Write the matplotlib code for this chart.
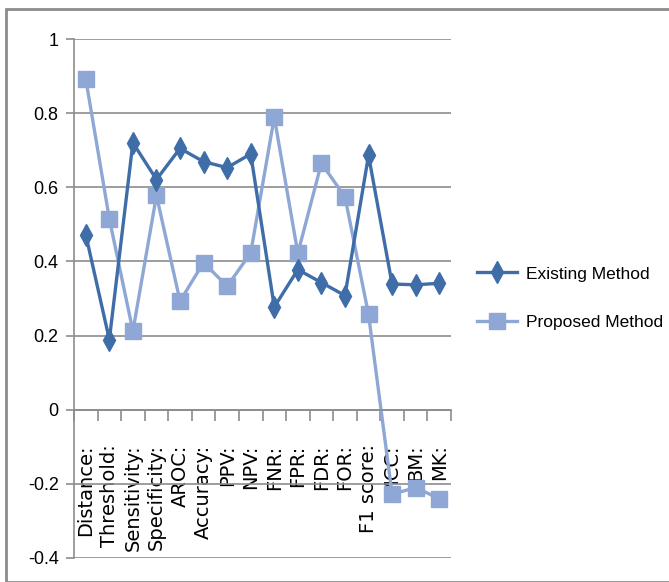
import matplotlib.pyplot as plt
from matplotlib.patches import Rectangle

categories = ['Distance:', 'Threshold:', 'Sensitivity:', 'Specificity:', 'AROC:',
              'Accuracy:', 'PPV:', 'NPV:', 'FNR:', 'FPR:', 'FDR:', 'FOR:',
              'F1 score:', 'MCC:', 'BM:', 'MK:']
existing = [0.472, 0.189, 0.720, 0.621, 0.705, 0.669, 0.653, 0.690,
            0.277, 0.378, 0.343, 0.308, 0.686, 0.339, 0.337, 0.341]
proposed = [0.892, 0.515, 0.212, 0.578, 0.293, 0.397, 0.333, 0.423,
            0.789, 0.422, 0.665, 0.574, 0.257, -0.228, -0.210, -0.240]
yticks = [-0.4, -0.2, 0, 0.2, 0.4, 0.6, 0.8, 1]
ylabels = ['-0.4', '-0.2', '0', '0.2', '0.4', '0.6', '0.8', '1']

narrow = ['Liberation Sans', 'DejaVu Sans']
grey = '#8c8c8c'

fig = plt.figure(figsize=(6.69, 5.82), dpi=100)
ax = fig.add_axes([74/669, 1 - 558/582, (451 - 74)/669, (558 - 39)/582])

x = range(len(categories))
ax.plot(x, existing, color='#3f6da8', lw=2.4, marker='d', ms=11,
        label='Existing Method', zorder=3)
ax.plot(x, proposed, color='#8ea7d5', lw=2.4, marker='s', ms=11,
        label='Proposed Method', zorder=2)

ax.set_xlim(-0.5, len(categories) - 0.5)
ax.set_ylim(-0.4, 1)
ax.set_yticks(yticks)
ax.set_yticklabels(ylabels, family=narrow, fontsize=13)
ax.yaxis.grid(True, color=grey, lw=1.2)
ax.tick_params(axis='y', length=6, color=grey, width=1.2, pad=5)

ax.spines['bottom'].set_position(('data', 0))
for s in ['top', 'right']:
    ax.spines[s].set_visible(False)
for s in ['bottom', 'left']:
    ax.spines[s].set_color(grey)
    ax.spines[s].set_linewidth(1.2)

ax.set_xticks(list(x))
ax.set_xticklabels(categories, rotation=90, fontsize=14, family='DejaVu Sans')
ax.set_xticks([i - 0.5 for i in range(len(categories) + 1)], minor=True)
ax.tick_params(axis='x', which='major', length=0, pad=25)
ax.tick_params(axis='x', which='minor', length=8, color=grey, width=1.2)
for t in ax.get_xticklabels():
    t.set_zorder(1)

fig.legend(loc='center left', bbox_to_anchor=(477/669, 1 - 298/582),
           frameon=False, prop={'family': narrow, 'size': 12.5},
           handlelength=2.3, handletextpad=0.5, labelspacing=1.9,
           borderpad=0, borderaxespad=0)

fig.patches.append(Rectangle((6/669, 0), 1, 1 - 9/582, transform=fig.transFigure,
                             fill=False, edgecolor=grey, lw=2))

fig.savefig('out.png', dpi=100)
